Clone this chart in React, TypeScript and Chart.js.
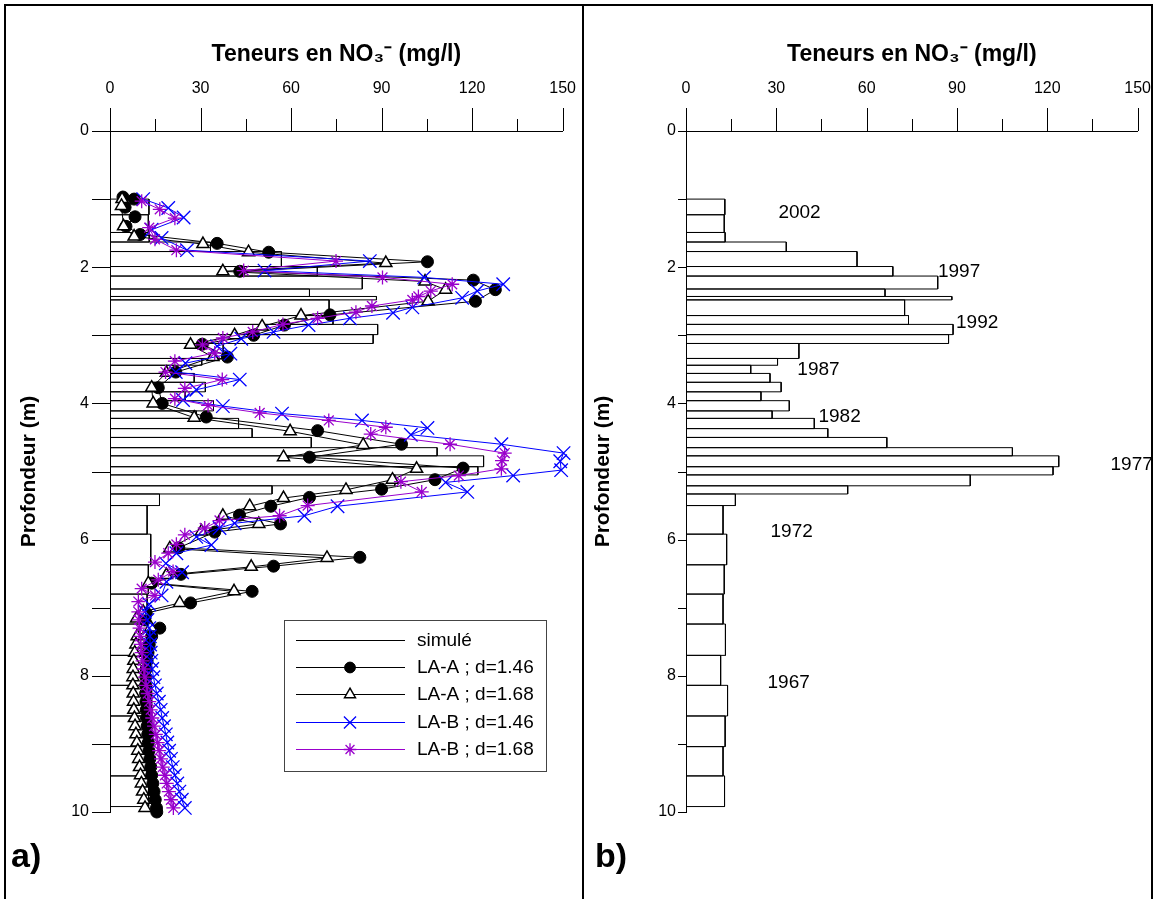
import React, { useEffect, useRef } from 'react';
import { Chart, registerables } from 'chart.js';
import { drawPoint } from 'chart.js/helpers';

Chart.register(...registerables);

const FONT = "'Liberation Sans', Arial, Helvetica, sans-serif";

// ---------------- data ----------------
// simulated profile: layer boundaries (depth, m) and NO3 content (mg/l) of each layer
const simDepthBounds = [1.00, 1.23, 1.49, 1.63, 1.77, 1.99, 2.13, 2.32, 2.43, 2.48, 2.71, 2.84, 2.99, 3.12, 3.34, 3.44, 3.56, 3.69, 3.83, 3.96, 4.11, 4.22, 4.37, 4.50, 4.65, 4.77, 4.93, 5.05, 5.21, 5.33, 5.50, 5.92, 6.37, 6.80, 7.24, 7.70, 8.14, 8.59, 9.04, 9.47, 9.92];
const simValues = [12.9, 12.7, 13.0, 33.3, 56.8, 68.7, 83.6, 66.1, 88.3, 72.6, 73.9, 88.7, 87.2, 37.5, 30.4, 21.5, 27.9, 31.6, 24.9, 34.3, 28.6, 42.6, 47.1, 66.7, 108.4, 123.8, 121.9, 94.4, 53.7, 16.4, 12.3, 13.5, 12.7, 12.3, 13.1, 11.5, 13.8, 13.0, 12.3, 12.8];

// [depth (m), NO3 (mg/l)]
const laA146 = [[0.97, 4.3], [1.00, 8.0], [1.12, 5.0], [1.26, 8.3], [1.40, 5.3], [1.52, 10.0], [1.65, 35.5], [1.78, 52.6], [1.92, 105.2], [2.06, 43.0], [2.19, 120.4], [2.33, 127.7], [2.50, 121.1], [2.70, 72.9], [2.85, 57.8], [3.00, 47.6], [3.13, 30.6], [3.32, 38.9], [3.54, 21.8], [3.77, 16.0], [4.00, 17.3], [4.20, 31.9], [4.40, 68.8], [4.60, 96.6], [4.79, 66.1], [4.95, 117.0], [5.12, 107.7], [5.26, 90.0], [5.38, 66.1], [5.51, 53.3], [5.64, 42.9], [5.77, 56.5], [5.89, 34.7], [6.12, 22.8], [6.26, 82.8], [6.39, 54.2], [6.51, 23.5], [6.64, 13.8], [6.76, 47.1], [6.93, 26.7], [7.08, 12.0], [7.18, 11.5], [7.30, 16.5], [7.42, 13.8], [7.54, 13.0], [7.66, 12.6], [7.78, 12.3], [7.90, 12.0], [8.02, 11.9], [8.14, 11.8], [8.26, 11.8], [8.38, 11.9], [8.50, 12.0], [8.62, 12.1], [8.74, 12.3], [8.86, 12.5], [8.98, 12.7], [9.10, 12.9], [9.22, 13.2], [9.34, 13.5], [9.46, 13.8], [9.58, 14.2], [9.70, 14.6], [9.82, 15.0], [9.94, 15.4], [10.0, 15.5]];
const laA168 = [[1.00, 4.0], [1.10, 3.8], [1.40, 4.5], [1.55, 8.0], [1.66, 30.8], [1.78, 45.9], [1.94, 91.4], [2.06, 37.4], [2.21, 104.4], [2.33, 111.2], [2.50, 105.4], [2.71, 63.3], [2.87, 50.4], [3.00, 41.3], [3.14, 26.7], [3.32, 34.1], [3.55, 18.7], [3.77, 13.8], [4.00, 14.3], [4.21, 27.9], [4.41, 59.7], [4.61, 83.9], [4.79, 57.5], [4.96, 101.6], [5.12, 93.6], [5.27, 78.2], [5.39, 57.5], [5.51, 46.3], [5.65, 37.4], [5.77, 49.3], [5.88, 30.3], [6.13, 19.8], [6.27, 71.9], [6.40, 46.8], [6.52, 18.7], [6.64, 12.7], [6.76, 41.1], [6.93, 23.1], [7.06, 11.0], [7.16, 8.8], [7.29, 13.5], [7.42, 9.0], [7.54, 8.6], [7.66, 8.2], [7.78, 7.9], [7.90, 7.7], [8.02, 7.6], [8.14, 7.6], [8.26, 7.7], [8.38, 7.8], [8.50, 7.9], [8.62, 8.1], [8.74, 8.3], [8.86, 8.6], [8.98, 8.9], [9.10, 9.2], [9.22, 9.5], [9.34, 9.8], [9.46, 10.1], [9.58, 10.4], [9.70, 10.8], [9.82, 11.2], [9.94, 11.6]];
const laB146 = [[1.00, 11.0], [1.13, 19.3], [1.27, 24.4], [1.45, 13.8], [1.57, 17.1], [1.75, 25.5], [1.91, 86.1], [2.05, 51.2], [2.15, 104.1], [2.25, 130.3], [2.35, 121.7], [2.45, 116.7], [2.59, 100.2], [2.67, 93.8], [2.75, 79.5], [2.85, 65.8], [2.95, 54.2], [3.05, 43.5], [3.16, 35.5], [3.27, 39.9], [3.41, 25.0], [3.54, 21.8], [3.65, 43.0], [3.80, 28.6], [3.95, 24.2], [4.04, 37.4], [4.15, 57.0], [4.25, 83.5], [4.36, 105.2], [4.46, 99.7], [4.60, 129.7], [4.73, 150.3], [4.85, 149.2], [4.98, 149.5], [5.06, 133.6], [5.16, 111.2], [5.30, 118.4], [5.51, 75.4], [5.65, 64.4], [5.76, 41.3], [5.83, 36.3], [5.96, 28.6], [6.08, 33.6], [6.20, 22.0], [6.35, 18.5], [6.48, 23.9], [6.62, 18.7], [6.82, 17.1], [6.95, 13.0], [7.06, 11.6], [7.18, 12.4], [7.30, 13.0], [7.42, 13.2], [7.54, 13.3], [7.66, 13.5], [7.78, 13.7], [7.90, 14.0], [8.02, 14.4], [8.14, 14.9], [8.26, 15.5], [8.38, 16.2], [8.50, 16.8], [8.62, 17.3], [8.74, 17.9], [8.86, 18.5], [8.98, 19.0], [9.10, 19.6], [9.22, 20.2], [9.34, 20.8], [9.46, 21.5], [9.58, 22.3], [9.70, 23.0], [9.82, 23.8], [9.94, 24.8]];
const laB168 = [[1.03, 10.5], [1.15, 16.5], [1.28, 21.5], [1.42, 13.0], [1.59, 14.9], [1.75, 22.0], [1.91, 74.9], [2.05, 44.3], [2.15, 90.3], [2.25, 113.4], [2.35, 106.3], [2.43, 102.2], [2.48, 100.2], [2.57, 86.8], [2.66, 81.5], [2.75, 68.8], [2.84, 57.3], [2.95, 47.3], [3.04, 37.4], [3.14, 30.6], [3.26, 34.7], [3.38, 21.5], [3.54, 18.4], [3.65, 37.2], [3.78, 24.8], [3.93, 21.5], [4.03, 32.5], [4.14, 49.6], [4.25, 72.5], [4.35, 91.4], [4.45, 86.4], [4.60, 112.7], [4.73, 130.8], [4.84, 129.9], [4.96, 129.7], [5.06, 115.6], [5.15, 96.4], [5.30, 103.3], [5.50, 65.5], [5.65, 56.2], [5.72, 36.3], [5.83, 31.4], [5.93, 24.8], [6.07, 22.0], [6.20, 19.3], [6.33, 14.9], [6.47, 20.9], [6.59, 16.0], [6.72, 10.5], [6.82, 14.9], [6.91, 9.4], [7.06, 9.4], [7.18, 9.6], [7.30, 9.8], [7.42, 10.0], [7.54, 10.2], [7.66, 10.5], [7.78, 10.8], [7.90, 11.2], [8.02, 11.6], [8.14, 12.0], [8.26, 12.5], [8.38, 13.0], [8.50, 13.5], [8.62, 14.0], [8.74, 14.6], [8.86, 15.2], [8.98, 15.8], [9.10, 16.3], [9.22, 16.9], [9.34, 17.5], [9.46, 18.2], [9.58, 18.8], [9.70, 19.5], [9.82, 20.2], [9.94, 21.0]];

const seriesLabels = ['simulé', 'LA-A ; d=1.46', 'LA-A ; d=1.68', 'LA-B ; d=1.46', 'LA-B ; d=1.68'];

const xTickLabels = [0, 30, 60, 90, 120, 150];
const yTickLabels = [0, 2, 4, 6, 8, 10];

const yearLabels = ['2002', '1997', '1992', '1987', '1982', '1977', '1972', '1967'];
const yearConc = [37.7, 90.7, 96.7, 44.0, 51.0, 148.0, 35.1, 34.1];
const yearDepth = [1.20, 2.07, 2.82, 3.51, 4.20, 4.90, 5.89, 8.10];

// ---------------- helpers ----------------
const toPts = (pairs: number[][]) => pairs.map(([d, c]) => ({ x: c, y: d }));

function simOutline() {
  const pts: { x: number; y: number }[] = [];
  simValues.forEach((v, i) => {
    const top = simDepthBounds[i];
    const bot = simDepthBounds[i + 1];
    pts.push({ x: 0, y: top }, { x: v, y: top }, { x: v, y: bot }, { x: 0, y: bot });
  });
  return pts;
}

const tickMarksPlugin = {
  id: 'tickMarks',
  afterDraw(chart: any, _a: any, opts: any) {
    const { ctx } = chart;
    const xs = chart.scales.x;
    const ys = chart.scales.y;
    ctx.save();
    ctx.strokeStyle = '#000';
    ctx.lineWidth = 1;
    ctx.beginPath();
    xs.ticks.forEach((t: any) => {
      const px = Math.round(xs.getPixelForValue(t.value)) + 0.5;
      const len = xTickLabels.includes(t.value) ? opts.xMajor : opts.xMinor;
      ctx.moveTo(px, xs.bottom);
      ctx.lineTo(px, xs.bottom - len);
    });
    ys.ticks.forEach((t: any) => {
      const py = Math.round(ys.getPixelForValue(t.value)) + 0.5;
      const len = yTickLabels.includes(t.value) ? opts.yMajor : opts.yMinor;
      ctx.moveTo(ys.right, py);
      ctx.lineTo(ys.right - len, py);
    });
    ctx.stroke();
    ctx.restore();
  },
};

const boxLegendPlugin = {
  id: 'boxLegend',
  afterDraw(chart: any, _a: any, opts: any) {
    if (!opts || !opts.show) return;
    const { ctx, chartArea } = chart;
    const left = Math.round(chartArea.left + opts.dx);
    const top = Math.round(chartArea.top + opts.dy);
    ctx.save();
    ctx.fillStyle = '#fff';
    ctx.fillRect(left, top, opts.w, opts.h);
    ctx.strokeStyle = '#444';
    ctx.lineWidth = 1;
    ctx.strokeRect(left + 0.5, top + 0.5, opts.w, opts.h);
    chart.data.datasets.forEach((ds: any, i: number) => {
      const y = Math.round(top + opts.firstRow + i * opts.rowGap) + 0.5;
      ctx.strokeStyle = ds.borderColor;
      ctx.lineWidth = 1;
      ctx.beginPath();
      ctx.moveTo(left + 12, y);
      ctx.lineTo(left + 121, y);
      ctx.stroke();
      if (ds.pointStyle && ds.pointRadius > 0) {
        ctx.fillStyle = ds.pointBackgroundColor;
        ctx.strokeStyle = ds.pointBorderColor;
        ctx.lineWidth = ds.pointBorderWidth;
        drawPoint(ctx, { pointStyle: ds.pointStyle, radius: ds.pointRadius * 0.9, rotation: 0, borderWidth: ds.pointBorderWidth } as any, left + 66, y);
      }
      ctx.fillStyle = '#000';
      ctx.font = `19px ${FONT}`;
      ctx.textAlign = 'left';
      ctx.textBaseline = 'middle';
      ctx.fillText(ds.label, left + 133, y);
    });
    ctx.restore();
  },
};

const yearPlugin = {
  id: 'years',
  afterDatasetsDraw(chart: any, _a: any, opts: any) {
    if (!opts || !opts.show) return;
    const { ctx } = chart;
    const xs = chart.scales.x;
    const ys = chart.scales.y;
    ctx.save();
    ctx.fillStyle = '#000';
    ctx.font = `19px ${FONT}`;
    ctx.textAlign = 'center';
    ctx.textBaseline = 'middle';
    yearLabels.forEach((lab, i) => {
      ctx.fillText(lab, xs.getPixelForValue(yearConc[i]), ys.getPixelForValue(yearDepth[i]));
    });
    ctx.restore();
  },
};

type PanelProps = {
  left: number;
  width: number;
  yScaleWidth: number;
  padRight: number;
  yTitlePad: number;
  yTick: number;
  yLabelPad: number;
  withSeries: boolean;
};

function Panel(p: PanelProps) {
  const ref = useRef<HTMLCanvasElement | null>(null);
  useEffect(() => {
    if (!ref.current) return;
    const datasets: any[] = [
      {
        label: seriesLabels[0],
        data: simOutline(),
        showLine: true,
        borderColor: '#000',
        borderWidth: 1,
        pointRadius: 0,
        pointStyle: false,
        order: 5,
      },
    ];
    if (p.withSeries) {
      datasets.push(
        {
          label: seriesLabels[1], data: toPts(laA146), showLine: true, borderColor: '#000', borderWidth: 1,
          pointStyle: 'circle', pointRadius: 6, pointBackgroundColor: '#000', pointBorderColor: '#000', pointBorderWidth: 1, order: 4, clip: false,
        },
        {
          label: seriesLabels[2], data: toPts(laA168), showLine: true, borderColor: '#000', borderWidth: 1,
          pointStyle: 'triangle', pointRadius: 7, pointBackgroundColor: '#fff', pointBorderColor: '#000', pointBorderWidth: 1.5, order: 3, clip: false,
        },
        {
          label: seriesLabels[3], data: toPts(laB146), showLine: true, borderColor: '#0000ff', borderWidth: 1,
          pointStyle: 'crossRot', pointRadius: 9.5, pointBackgroundColor: '#0000ff', pointBorderColor: '#0000ff', pointBorderWidth: 1.3, order: 2, clip: false,
        },
        {
          label: seriesLabels[4], data: toPts(laB168), showLine: true, borderColor: '#9900cc', borderWidth: 1,
          pointStyle: 'star', pointRadius: 7, pointBackgroundColor: '#9900cc', pointBorderColor: '#9900cc', pointBorderWidth: 1.3, order: 1, clip: false,
        },
      );
    }
    const chart = new Chart(ref.current, {
      type: 'scatter',
      data: { datasets },
      plugins: [tickMarksPlugin, boxLegendPlugin, yearPlugin],
      options: {
        animation: false,
        responsive: true,
        maintainAspectRatio: false,
        devicePixelRatio: 1,
        events: [],
        layout: { padding: { left: 0, top: 0, right: p.padRight, bottom: 87 } },
        plugins: {
          legend: { display: false },
          tooltip: { enabled: false },
          tickMarks: { xMajor: 23, xMinor: 12, yMajor: p.yTick, yMinor: p.yTick },
          boxLegend: { show: p.withSeries, dx: 174, dy: 489, w: 262, h: 151, firstRow: 20, rowGap: 27.2 },
          years: { show: !p.withSeries },
        } as any,
        scales: {
          x: {
            type: 'linear',
            position: 'top',
            min: 0,
            max: 150,
            grid: { display: false, drawTicks: true, tickLength: 23 },
            border: { display: true, color: '#000', width: 1 },
            ticks: {
              stepSize: 15,
              autoSkip: false,
              maxRotation: 0,
              padding: 10,
              color: '#000',
              font: { family: FONT, size: 16 },
              callback: (v: any) => (xTickLabels.includes(Number(v)) ? String(v) : ''),
            },
            title: {
              display: true,
              text: 'Teneurs en NO₃⁻ (mg/l)',
              color: '#000',
              font: { family: FONT, size: 23, weight: 'bold' },
              padding: { top: 36, bottom: 0 },
            },
            afterFit: (s: any) => {
              s.height = 126;
            },
          },
          y: {
            type: 'linear',
            position: 'left',
            reverse: true,
            min: 0,
            max: 10,
            grid: { display: false, drawTicks: true, tickLength: p.yTick },
            border: { display: true, color: '#000', width: 1 },
            ticks: {
              stepSize: 1,
              autoSkip: false,
              padding: p.yLabelPad,
              color: '#000',
              font: { family: FONT, size: 16 },
              callback: (v: any) => (yTickLabels.includes(Number(v)) ? String(v) : ''),
            },
            title: {
              display: true,
              text: 'Profondeur (m)',
              color: '#000',
              font: { family: FONT, size: 21, weight: 'bold' },
              padding: { top: p.yTitlePad, bottom: 0 },
            },
            afterFit: (s: any) => {
              s.width = p.yScaleWidth;
            },
          },
        } as any,
      },
    } as any);
    return () => chart.destroy();
  }, []);
  return (
    <div style={{ position: 'absolute', left: p.left, top: 5, width: p.width, height: 894 }}>
      <canvas ref={ref} />
    </div>
  );
}

export default function App() {
  const line = { position: 'absolute' as const, background: '#000' };
  const label = {
    position: 'absolute' as const,
    fontFamily: FONT,
    fontWeight: 'bold' as const,
    fontSize: 34,
    lineHeight: '34px',
    color: '#000',
  };
  return (
    <div style={{ position: 'absolute', left: 0, top: 0, width: 1156, height: 899, background: '#fff', overflow: 'hidden' }}>
      <Panel left={5} width={581} yScaleWidth={105} padRight={0} yTitlePad={12} yTick={18} yLabelPad={3} withSeries={true} />
      <Panel left={585} width={576} yScaleWidth={101} padRight={0} yTitlePad={6} yTick={8} yLabelPad={2} withSeries={false} />
      <div style={{ ...line, left: 4, top: 4, width: 1149, height: 2 }} />
      <div style={{ ...line, left: 4, top: 4, width: 2, height: 900 }} />
      <div style={{ ...line, left: 1151, top: 4, width: 2, height: 900 }} />
      <div style={{ ...line, left: 582, top: 4, width: 2, height: 900 }} />
      <div style={{ ...label, left: 11, top: 838 }}>a)</div>
      <div style={{ ...label, left: 595, top: 838 }}>b)</div>
    </div>
  );
}
